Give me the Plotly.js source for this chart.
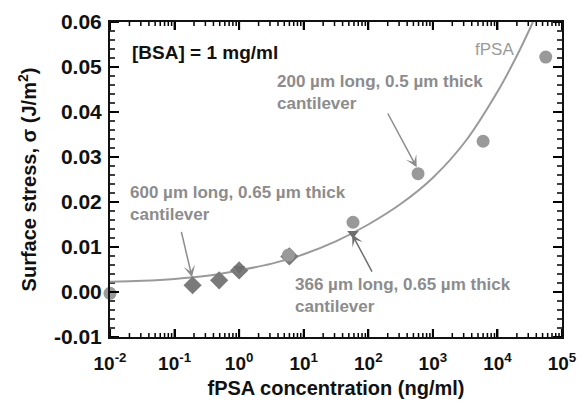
<!DOCTYPE html>
<html>
<head>
<meta charset="utf-8">
<script src="https://cdn.plot.ly/plotly-3.0.1.min.js"></script>
<style>html,body{margin:0;padding:0;background:#fff}#chart{width:579px;height:410px}</style>
</head>
<body>
<div id="chart"></div>
<script>
// fPSA concentration (ng/ml) and surface stress (J/m^2)
const circleX = [0.01, 5.8, 58, 590, 6000, 56000];
const circleY = [-0.0003, 0.0082, 0.0155, 0.0263, 0.0335, 0.0522];
const diamondX = [0.19, 0.49, 1.0, 6.0];
const diamondY = [0.0015, 0.0026, 0.0048, 0.0079];
const triangleX = [1.0, 58];
const triangleY = [0.0052, 0.0130];
// fitted fPSA curve
const fitX = [0.01, 0.032, 0.1, 0.32, 1, 3.2, 10, 32, 100, 320, 1000, 3200, 10000, 20000, 35500];
const fitY = [0.0023, 0.0025, 0.0029, 0.0036, 0.0048, 0.0063, 0.0084, 0.0113, 0.0150, 0.0196, 0.0254, 0.0335, 0.0445, 0.0525, 0.0600];
const xTickVals = [0.01, 0.1, 1, 10, 100, 1000, 10000, 100000];
const xTickText = ['10<sup>-2</sup>','10<sup>-1</sup>','10<sup>0</sup>','10<sup>1</sup>','10<sup>2</sup>','10<sup>3</sup>','10<sup>4</sup>','10<sup>5</sup>'];
const yTickVals = [-0.01, 0, 0.01, 0.02, 0.03, 0.04, 0.05, 0.06];
const yTickText = ['-0.01','0.00','0.01','0.02','0.03','0.04','0.05','0.06'];

const FONT = 'Liberation Sans, Arial, Helvetica, sans-serif';
const GREY = '#8c8c8c';
const INK = '#000000';
const W = 579, H = 410;
const M = {l: 110, r: 17, t: 22, b: 73};
const X_RANGE = [-2, 5];          // log10 units
const Y_RANGE = [-0.01, 0.06];
const decPerPx = (X_RANGE[1] - X_RANGE[0]) / (W - M.l - M.r);
const yPerPx = (Y_RANGE[1] - Y_RANGE[0]) / (H - M.t - M.b);

// inside tick marks on all four sides, built from the tick values
function tickTrace(xv, yv, lenPx, width) {
  const xs = [], ys = [];
  const xmin = Math.pow(10, X_RANGE[0]), xmax = Math.pow(10, X_RANGE[1]);
  xv.forEach(v => {
    xs.push(v, v, null, v, v, null);
    ys.push(Y_RANGE[0], Y_RANGE[0] + lenPx * yPerPx, null, Y_RANGE[1], Y_RANGE[1] - lenPx * yPerPx, null);
  });
  yv.forEach(v => {
    xs.push(xmin, Math.pow(10, X_RANGE[0] + lenPx * decPerPx), null, xmax, Math.pow(10, X_RANGE[1] - lenPx * decPerPx), null);
    ys.push(v, v, null, v, v, null);
  });
  return {x: xs, y: ys, mode: 'lines', line: {color: INK, width: width}, connectgaps: false, hoverinfo: 'skip', cliponaxis: false};
}
const xMinor = [], yMinor = [];
for (let i = 0; i < xTickVals.length - 1; i++) for (let m = 2; m <= 9; m++) xMinor.push(m * xTickVals[i]);
for (let i = 0; i < yTickVals.length - 1; i++) for (let k = 1; k <= 4; k++) yMinor.push(yTickVals[i] + k * (yTickVals[i + 1] - yTickVals[i]) / 5);

const traces = [
  tickTrace(xTickVals, [], 8, 2),
  tickTrace([], yTickVals, 9, 2),
  tickTrace(xMinor, [], 4, 1.5),
  tickTrace([], yMinor, 5, 1.5),
  {x: fitX, y: fitY, mode: 'lines', line: {color: '#9a9a9a', width: 2, shape: 'spline', smoothing: 1}, hoverinfo: 'skip'},
  {x: diamondX, y: diamondY, mode: 'markers', marker: {symbol: 'diamond', size: 14, color: '#7a7a7a'}, cliponaxis: false},
  {x: triangleX, y: triangleY, mode: 'markers', marker: {symbol: 'triangle-down', size: 10, color: '#6e6e6e'}, cliponaxis: false},
  {x: circleX, y: circleY, mode: 'markers', marker: {symbol: 'circle', size: 13, color: '#999999'}, cliponaxis: false}
];

const annotations = [
  {xref:'x', yref:'y', x: -1.69, y: 0.0532, text: '<b>[BSA] = 1 mg/ml</b>', showarrow: false, xanchor: 'left', yanchor: 'middle', align: 'left', font: {family: FONT, size: 19, color: '#111'}},
  {xref:'x', yref:'y', x: 3.62, y: 0.0539, text: 'fPSA', showarrow: false, xanchor: 'left', yanchor: 'middle', font: {family: FONT, size: 17, color: '#9a9a9a'}},
  {xref:'x', yref:'y', x: 0.554, y: 0.0444, text: '<b>200 \u00b5m long, 0.5 \u00b5m thick<br>cantilever</b>', showarrow: false, xanchor: 'left', yanchor: 'middle', align: 'left', font: {family: FONT, size: 17, color: GREY}},
  {xref:'x', yref:'y', x: -1.72, y: 0.0196, text: '<b>600 \u00b5m long, 0.65 \u00b5m thick<br>cantilever</b>', showarrow: false, xanchor: 'left', yanchor: 'middle', align: 'left', font: {family: FONT, size: 17, color: GREY}},
  {xref:'x', yref:'y', x: 0.833, y: -0.0008, text: '<b>366 \u00b5m long, 0.65 \u00b5m thick<br>cantilever</b>', showarrow: false, xanchor: 'left', yanchor: 'middle', align: 'left', font: {family: FONT, size: 17, color: GREY}},
  {xref:'x', yref:'y', axref:'x', ayref:'y', x: 2.75, y: 0.0277, ax: 2.29, ay: 0.0400, text: '', showarrow: true, arrowhead: 3, arrowsize: 1.3, arrowwidth: 1.5, arrowcolor: GREY, standoff: 0},
  {xref:'x', yref:'y', axref:'x', ayref:'y', x: -0.73, y: 0.0033, ax: -0.90, ay: 0.0137, text: '', showarrow: true, arrowhead: 3, arrowsize: 1.3, arrowwidth: 1.5, arrowcolor: GREY, standoff: 0},
  {xref:'x', yref:'y', axref:'x', ayref:'y', x: 1.75, y: 0.0128, ax: 2.07, ay: 0.0042, text: '', showarrow: true, arrowhead: 3, arrowsize: 1.3, arrowwidth: 1.5, arrowcolor: '#6e6e6e', standoff: 0}
];

const layout = {
  width: W, height: H,
  margin: M,
  paper_bgcolor: '#fff', plot_bgcolor: '#fff',
  showlegend: false,
  font: {family: FONT, color: '#111'},
  xaxis: {
    type: 'log', range: X_RANGE,
    tickmode: 'array', tickvals: xTickVals, ticktext: xTickText,
    ticks: 'inside', ticklen: 8, tickwidth: 2, tickcolor: INK, ticklabelstandoff: 8,
    showline: true, linewidth: 2, linecolor: '#111', mirror: 'ticks',
    showgrid: false, zeroline: false,
    tickfont: {family: FONT, size: 19, color: '#111', weight: 'bold'},
    title: {text: '<b>fPSA concentration (ng/ml)</b>', font: {family: FONT, size: 20, color: '#111'}, standoff: 8}
  },
  yaxis: {
    range: Y_RANGE,
    tickmode: 'array', tickvals: yTickVals, ticktext: yTickText,
    ticks: 'inside', ticklen: 9, tickwidth: 2, tickcolor: INK, ticklabelstandoff: 2,
    showline: true, linewidth: 2, linecolor: '#111', mirror: 'ticks',
    showgrid: false, zeroline: false,
    tickfont: {family: FONT, size: 21, color: '#111', weight: 'bold'},
    title: {text: '<b>Surface stress, \u03c3 (J/m<sup>2</sup>)</b>', font: {family: FONT, size: 20, color: '#111'}, standoff: 12}
  },
  annotations: annotations
};

Plotly.newPlot('chart', traces, layout, {displayModeBar: false, staticPlot: true});
</script>
</body>
</html>
